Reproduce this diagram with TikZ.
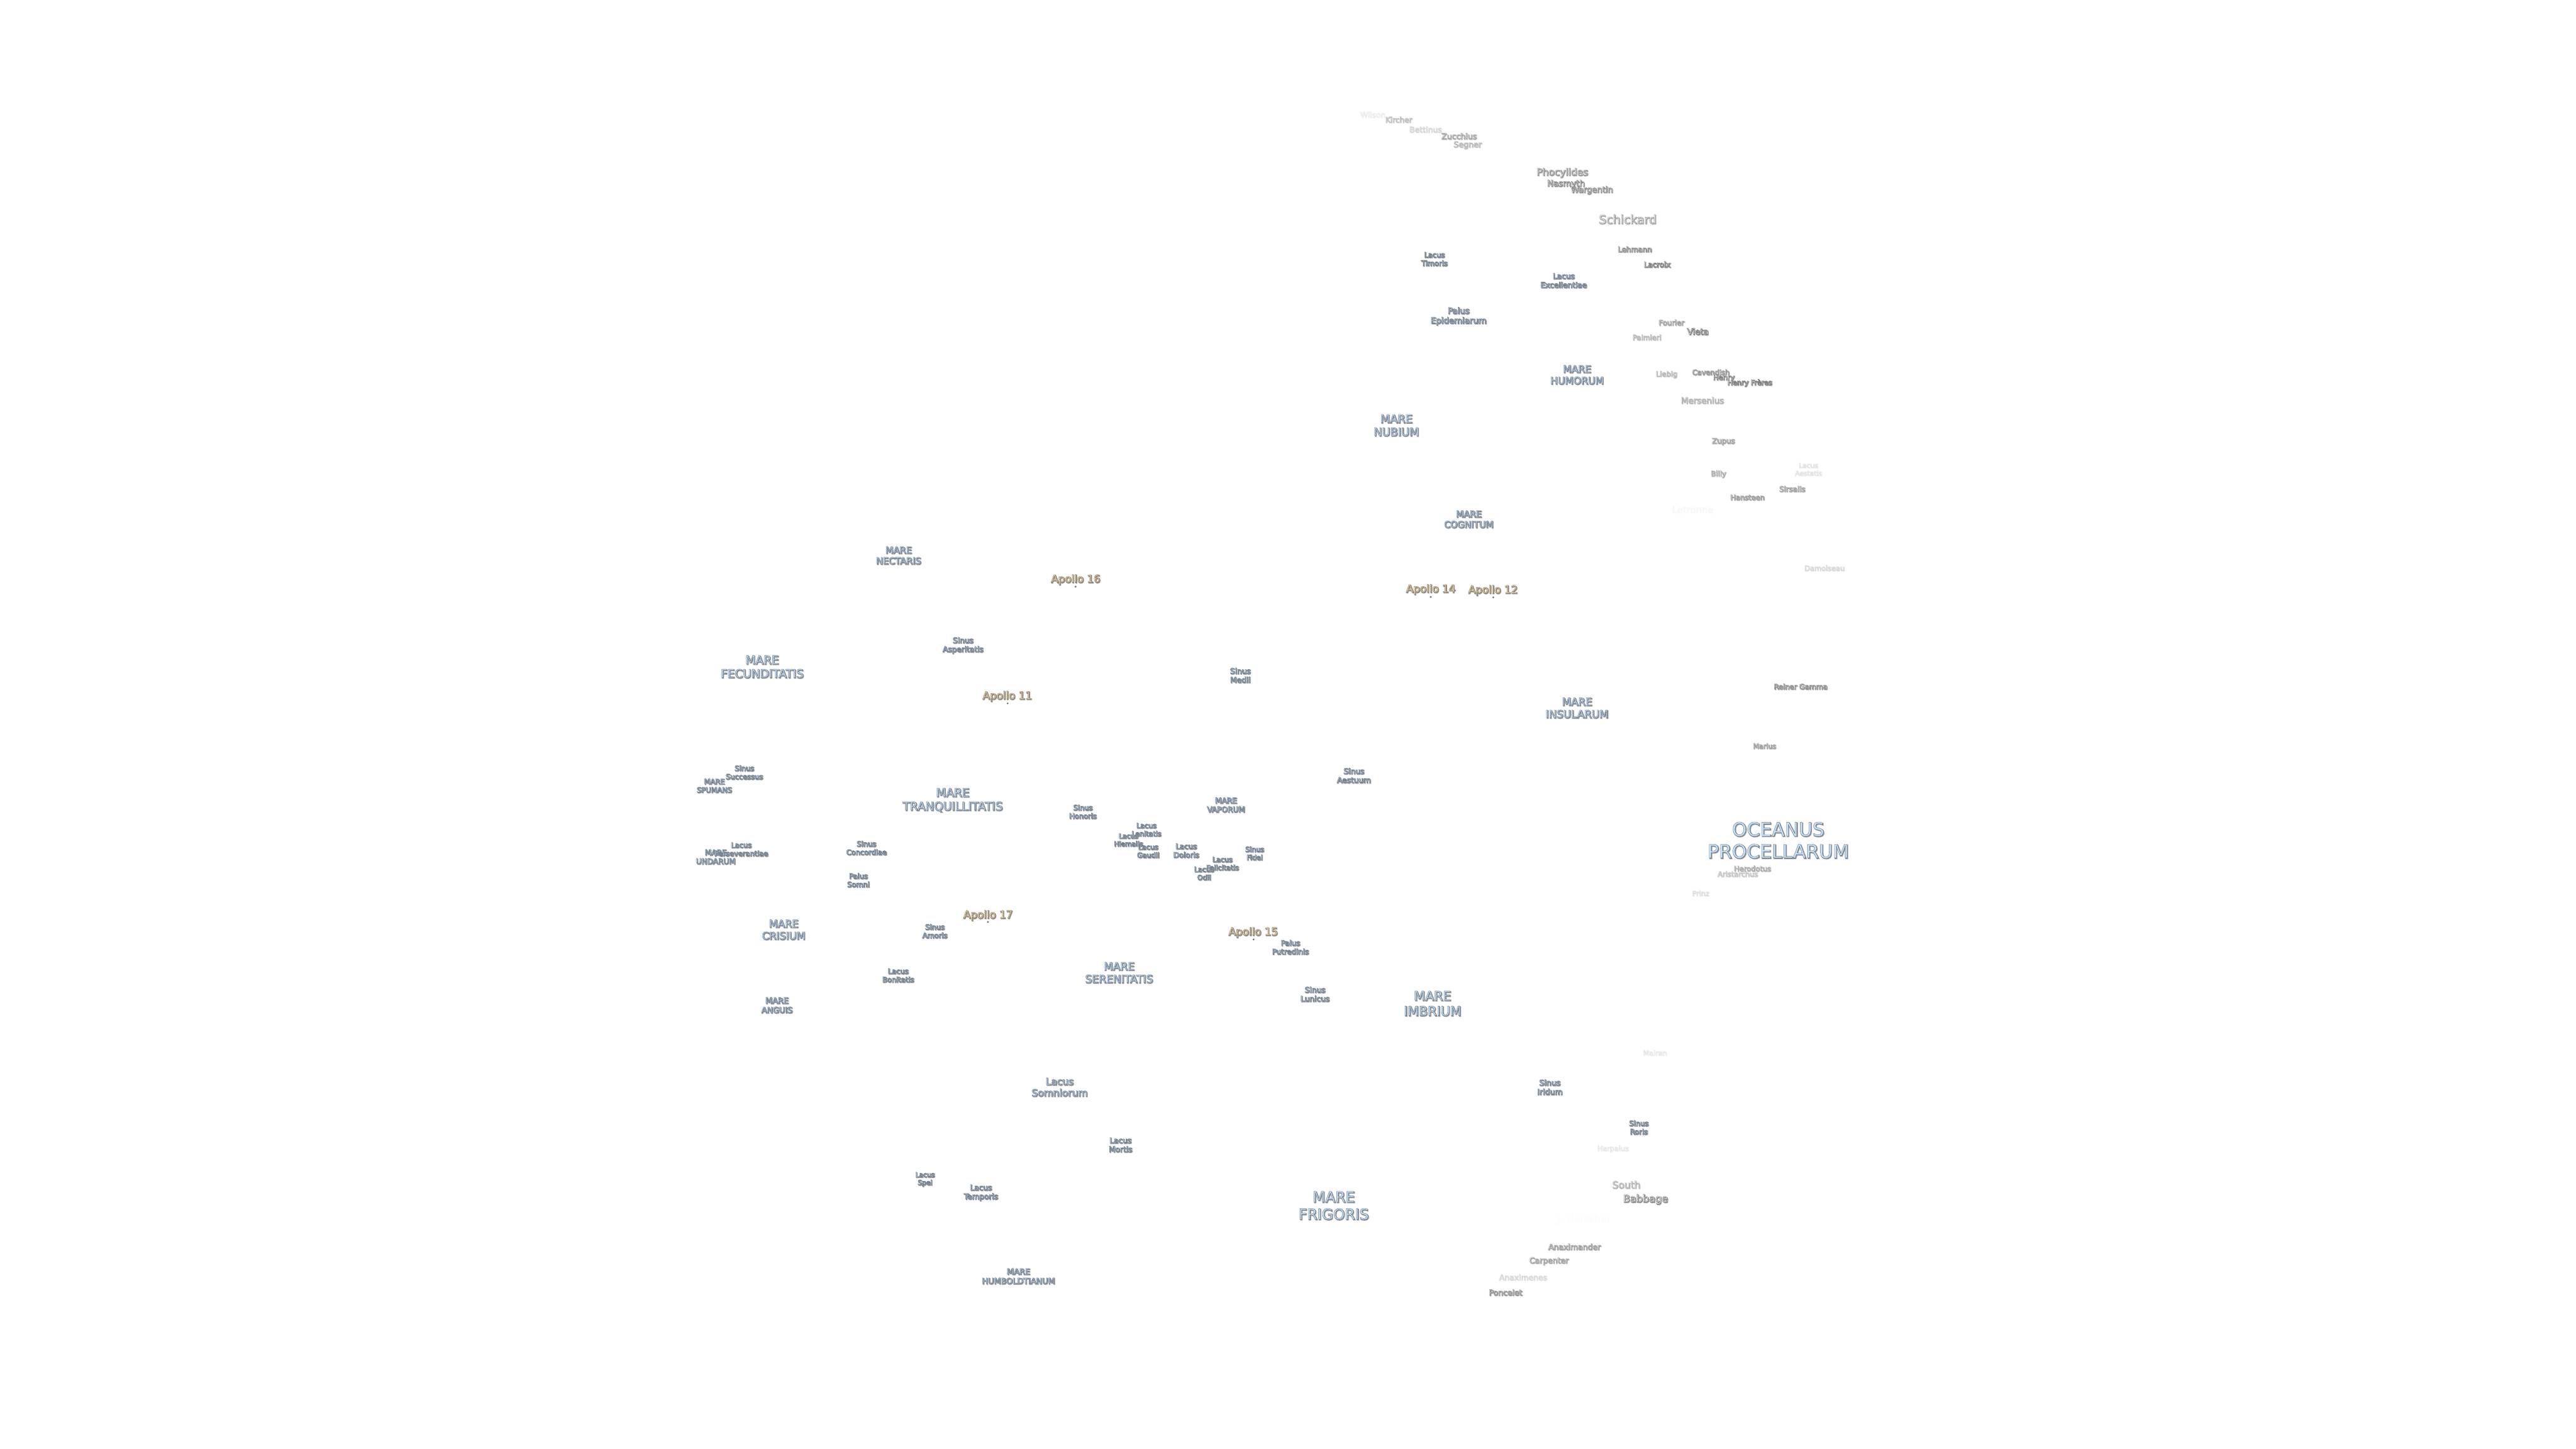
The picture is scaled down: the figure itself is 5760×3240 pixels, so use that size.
\documentclass[tikz,border=0pt]{standalone}
\usepackage{fontspec}
\tikzset{
  lab/.style={inner sep=0pt,outer sep=0pt,align=center,anchor=center},
  sitedot/.style={circle,inner sep=0pt,minimum size=0.045cm,fill=black!55,draw=none}
}
% fill colour / stroke colour of the three kinds of label
\def\seaF{0.78 0.89 1.00}\def\seaS{0.30 0.36 0.44}
\def\cratF{1.00 1.00 1.00}\def\cratS{0.32 0.32 0.32}
\def\apoF{1.00 0.88 0.66}\def\apoS{0.38 0.34 0.28}
\newcommand\lbl[7]{%
  \pgfmathsetmacro\fsz{#5*0.28453}%
  \pgfmathsetmacro\fln{#5*0.28453*1.17}%
  \pgfmathsetmacro\embA{200/#5}%
  \pgfmathsetmacro\embB{50/#5}%
  \node[lab,opacity=#6*0.8,font={\fontspec{DejaVu Sans}[FakeBold=\embA]\fontsize{\fsz}{\fln}\selectfont}] (#1s) at (#2+1.5,#3+1.5)
    {\special{pdf:bcolor [0.55 0.55 0.55] [0.55 0.55 0.55]}#7\special{pdf:ecolor}};
  \node[lab,opacity=#6,font={\fontspec{DejaVu Sans}[FakeBold=\embB]\fontsize{\fsz}{\fln}\selectfont}] (#1) at (#2,#3)
    {\special{pdf:bcolor [\csname #4F\endcsname] [\csname #4S\endcsname]}#7\special{pdf:ecolor}};
}
\begin{document}
\begin{tikzpicture}[x=0.01cm,y=-0.01cm]
\useasboundingbox (0,0) rectangle (5760,3240);
\fill[white] (0,0) rectangle (5760,3240);
% seas
\lbl{oceanus}{3976}{1879}{sea}{42}{1}{OCEANUS\\PROCELLARUM}
\lbl{frigoris}{2982}{2696}{sea}{33}{1}{MARE\\FRIGORIS}
\lbl{imbrium}{3203}{2244}{sea}{29}{1}{MARE\\IMBRIUM}
\lbl{tranq}{2130}{1789}{sea}{26}{1}{MARE\\TRANQUILLITATIS}
\lbl{fecund}{1704}{1491}{sea}{26}{1}{MARE\\FECUNDITATIS}
\lbl{nubium}{3122}{951}{sea}{25}{1}{MARE\\NUBIUM}
\lbl{seren}{2502}{2175}{sea}{24}{1}{MARE\\SERENITATIS}
\lbl{crisium}{1752}{2079}{sea}{23}{1}{MARE\\CRISIUM}
\lbl{humorum}{3526}{838}{sea}{22}{1}{MARE\\HUMORUM}
\lbl{insularum}{3526}{1583}{sea}{23.5}{1}{MARE\\INSULARUM}
\lbl{cognitum}{3284}{1161}{sea}{20}{1}{MARE\\COGNITUM}
\lbl{nectaris}{2009}{1242}{sea}{20.5}{1}{MARE\\NECTARIS}
\lbl{vaporum}{2741}{1800}{sea}{17}{1}{MARE\\VAPORUM}
\lbl{spumans}{1597}{1757}{sea}{16}{1}{MARE\\SPUMANS}
\lbl{undarum}{1600}{1916}{sea}{17}{1}{MARE\\UNDARUM}
\lbl{anguis}{1737}{2248}{sea}{18}{1}{MARE\\ANGUIS}
\lbl{humboldt}{2277}{2854}{sea}{18}{1}{MARE\\HUMBOLDTIANUM}
% lakes, bays, marshes
\lbl{somniorum}{2369}{2431}{sea}{21.7}{1}{Lacus\\Somniorum}
\lbl{mortis}{2505}{2560}{sea}{17}{1}{Lacus\\Mortis}
\lbl{spei}{2068}{2637}{sea}{15}{1}{Lacus\\Spei}
\lbl{temporis}{2193}{2667}{sea}{17}{1}{Lacus\\Temporis}
\lbl{iridum}{3465}{2431}{sea}{17.5}{1}{Sinus\\Iridum}
\lbl{roris}{3664}{2521}{sea}{16}{1}{Sinus\\Roris}
\lbl{timoris}{3207}{579}{sea}{16}{1}{Lacus\\Timoris}
\lbl{excell}{3496}{627}{sea}{17}{1}{Lacus\\Excellentiae}
\lbl{epidem}{3261}{707}{sea}{18.7}{1}{Palus\\Epidemiarum}
\lbl{medii}{2773}{1510}{sea}{17}{1}{Sinus\\Medii}
\lbl{aestuum}{3027}{1734}{sea}{17}{1}{Sinus\\Aestuum}
\lbl{asper}{2153}{1443}{sea}{17}{1}{Sinus\\Asperitatis}
\lbl{success}{1664}{1727}{sea}{16}{1}{Sinus\\Successus}
\lbl{persev}{1657}{1899}{sea}{16}{1}{Lacus\\Perseverantiae}
\lbl{concord}{1937}{1896}{sea}{16}{1}{Sinus\\Concordiae}
\lbl{somni}{1919}{1968}{sea}{16}{1}{Palus\\Somni}
\lbl{honoris}{2421}{1815}{sea}{16}{1}{Sinus\\Honoris}
\lbl{lenit}{2563}{1855}{sea}{15.5}{1}{Lacus\\Lenitatis}
\lbl{hiemalis}{2523}{1878}{sea}{15}{1}{Lacus\\Hiemalis}
\lbl{gaudii}{2567}{1903}{sea}{15.5}{1}{Lacus\\Gaudii}
\lbl{doloris}{2652}{1902}{sea}{16.5}{1}{Lacus\\Doloris}
\lbl{fidei}{2805}{1908}{sea}{15.5}{1}{Sinus\\Fidei}
\lbl{felicit}{2733}{1931}{sea}{15.5}{1}{Lacus\\Felicitatis}
\lbl{odii}{2692}{1953}{sea}{15.5}{1}{Lacus\\Odii}
\lbl{amoris}{2090}{2082}{sea}{16}{1}{Sinus\\Amoris}
\lbl{bonit}{2008}{2181}{sea}{16}{1}{Lacus\\Bonitatis}
\lbl{putred}{2885}{2118}{sea}{16.5}{1}{Palus\\Putredinis}
\lbl{lunicus}{2940}{2223}{sea}{17}{1}{Sinus\\Lunicus}
% craters
\lbl{wilson}{3069}{256}{crat}{17}{0.08}{Wilson}
\lbl{kircher}{3127}{267}{crat}{17}{0.35}{Kircher}
\lbl{bettinus}{3187}{289}{crat}{17.5}{0.2}{Bettinus}
\lbl{zucchius}{3262}{304}{crat}{17.6}{0.55}{Zucchius}
\lbl{segner}{3281}{324}{crat}{17.7}{0.4}{Segner}
\lbl{phocyl}{3493}{386}{crat}{21.6}{0.8}{Phocylides}
\lbl{nasmyth}{3501}{411}{crat}{18.8}{0.9}{Nasmyth}
\lbl{wargentin}{3559}{425}{crat}{18.4}{0.8}{Wargentin}
\lbl{schickard}{3639}{490}{crat}{26.6}{0.6}{Schickard}
\lbl{lehmann}{3655}{557}{crat}{16.4}{0.8}{Lehmann}
\lbl{lacroix}{3705}{591}{crat}{16.5}{1}{Lacroix}
\lbl{fourier}{3737}{721}{crat}{16.3}{0.6}{Fourier}
\lbl{vieta}{3796}{741}{crat}{18.7}{1}{Vieta}
\lbl{palmieri}{3682}{754}{crat}{16}{0.4}{Palmieri}
\lbl{liebig}{3726}{837}{crat}{16}{0.4}{Liebig}
\lbl{cavendish}{3825}{832}{crat}{16}{0.7}{Cavendish}
\lbl{henry}{3854}{845}{crat}{16}{0.9}{Henry}
\lbl{freres}{3912}{856}{crat}{15.7}{1}{Henry Frères}
\lbl{mersenius}{3806}{895}{crat}{18.8}{0.45}{Mersenius}
\lbl{zupus}{3853}{987}{crat}{16.5}{0.6}{Zupus}
\lbl{billy}{3842}{1060}{crat}{16}{0.5}{Billy}
\lbl{aestatis}{4043}{1049}{crat}{15}{0.12}{Lacus\\Aestatis}
\lbl{sirsalis}{4007}{1093}{crat}{16.4}{0.6}{Sirsalis}
\lbl{hansteen}{3907}{1112}{crat}{16}{0.65}{Hansteen}
\lbl{letronne}{3784}{1139}{crat}{20.8}{0.03}{Letronne}
\lbl{damoiseau}{4079}{1270}{crat}{16}{0.18}{Damoiseau}
\lbl{reiner}{4026}{1535}{crat}{16}{0.8}{Reiner Gamma}
\lbl{marius}{3945}{1668}{crat}{15.5}{0.6}{Marius}
\lbl{aristarchus}{3885}{1954}{crat}{16}{0.3}{Aristarchus}
\lbl{herodotus}{3918}{1942}{crat}{16}{0.5}{Herodotus}
\lbl{prinz}{3802}{1997}{crat}{15.7}{0.15}{Prinz}
\lbl{mairan}{3700}{2354}{crat}{15.7}{0.1}{Mairan}
\lbl{harpalus}{3606}{2569}{crat}{15.7}{0.1}{Harpalus}
\lbl{south}{3636}{2649}{crat}{21.7}{0.45}{South}
\lbl{babbage}{3679}{2682}{crat}{22.6}{0.9}{Babbage}
\lbl{herschel}{3540}{2727}{crat}{22}{0.012}{J. Herschel}
\lbl{anaximander}{3520}{2788}{crat}{17.5}{0.65}{Anaximander}
\lbl{carpenter}{3463}{2820}{crat}{17.5}{0.6}{Carpenter}
\lbl{anaximenes}{3405}{2856}{crat}{17.4}{0.18}{Anaximenes}
\lbl{poncelet}{3366}{2890}{crat}{17.4}{0.8}{Poncelet}
% landing sites
\lbl{apsixteen}{2405}{1296}{apo}{23.5}{1}{Apollo 16}
\lbl{apeleven}{2252}{1557}{apo}{23.5}{1}{Apollo 11}
\lbl{apfourteen}{3199}{1318}{apo}{23.5}{1}{Apollo 14}
\lbl{aptwelve}{3338}{1320}{apo}{23.5}{1}{Apollo 12}
\lbl{apseventeen}{2209}{2047}{apo}{23.5}{1}{Apollo 17}
\lbl{apfifteen}{2802}{2085}{apo}{23.5}{1}{Apollo 15}
\node[sitedot] (dsixteen) at (2405,1312) {};
\node[sitedot] (deleven) at (2253,1573) {};
\node[sitedot] (dfourteen) at (3199,1335) {};
\node[sitedot] (dtwelve) at (3339,1336) {};
\node[sitedot] (dseventeen) at (2209,2062) {};
\node[sitedot] (dfifteen) at (2803,2101) {};
\end{tikzpicture}
\end{document}
